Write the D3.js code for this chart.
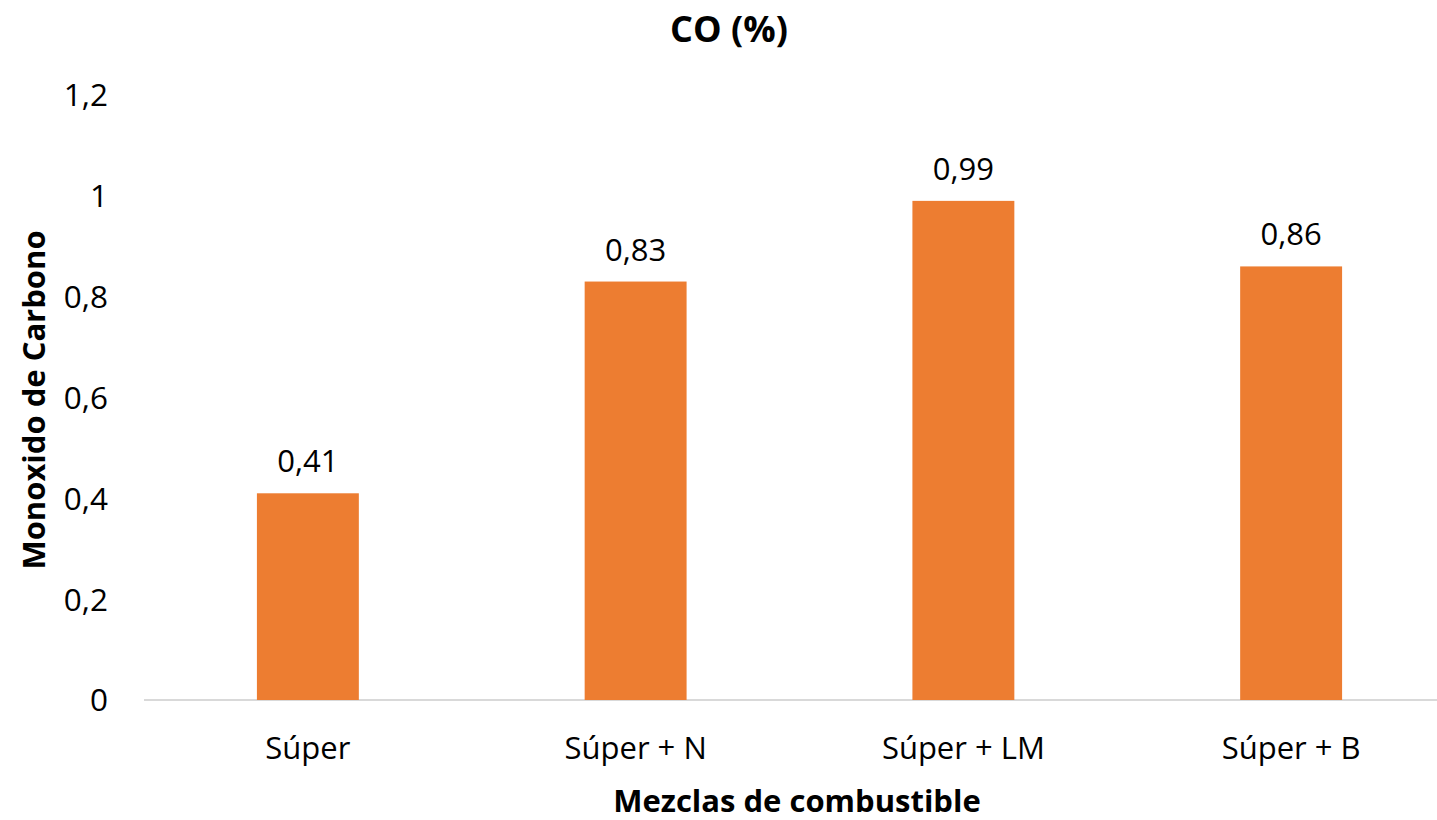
<!DOCTYPE html>
<html><head><meta charset="utf-8">
<script src="https://cdn.jsdelivr.net/npm/d3@7"></script>
<style>body{margin:0;background:#fff}svg{display:block;font-family:"Open Sans",sans-serif}</style>
</head><body>
<svg id="c" width="1437" height="820"></svg>
<script>
const categories = ["Súper", "Súper + N", "Súper + LM", "Súper + B"];
const values = [0.41, 0.83, 0.99, 0.86];
const valueLabels = ["0,41", "0,83", "0,99", "0,86"];
const yTicks = [0, 0.2, 0.4, 0.6, 0.8, 1, 1.2];
const yTickLabels = ["0", "0,2", "0,4", "0,6", "0,8", "1", "1,2"];

const svg = d3.select("#c");
const x = d3.scaleBand().domain(categories).range([144, 1455]).padding(0);
const y = d3.scaleLinear().domain([0, 1.2]).range([700, 95]);
const barW = x.bandwidth() * 0.311;

svg.append("line").attr("x1", 144).attr("x2", 1437).attr("y1", y(0)).attr("y2", y(0))
  .attr("stroke", "#d9d9d9").attr("stroke-width", 2);

svg.selectAll("rect.bar").data(values).enter().append("rect")
  .attr("x", (d, i) => x(categories[i]) + x.bandwidth() / 2 - barW / 2)
  .attr("width", barW)
  .attr("y", d => y(d)).attr("height", d => y(0) - y(d))
  .attr("fill", "#ED7D31");

svg.selectAll("text.vl").data(values).enter().append("text")
  .attr("x", (d, i) => x(categories[i]) + x.bandwidth() / 2)
  .attr("y", d => y(d) - 21)
  .attr("text-anchor", "middle").attr("font-size", 31).attr("fill", "#000")
  .text((d, i) => valueLabels[i]);

svg.selectAll("text.yt").data(yTicks).enter().append("text")
  .attr("x", 108).attr("y", d => y(d)).attr("dy", "0.36em")
  .attr("text-anchor", "end").attr("font-size", 31.5).attr("fill", "#000")
  .text((d, i) => yTickLabels[i]);

svg.selectAll("text.xt").data(categories).enter().append("text")
  .attr("x", d => x(d) + x.bandwidth() / 2).attr("y", 759)
  .attr("text-anchor", "middle").attr("font-size", 31).attr("fill", "#000")
  .text(d => d);

svg.append("text").attr("x", 729).attr("y", 42).attr("text-anchor", "middle")
  .attr("font-size", 36).attr("font-weight", "bold").text("CO (%)");
svg.append("text").attr("x", 797).attr("y", 812).attr("text-anchor", "middle")
  .attr("font-size", 31).attr("font-weight", "bold").text("Mezclas de combustible");
svg.append("text").attr("transform", "translate(45,400) rotate(-90)").attr("text-anchor", "middle")
  .attr("font-size", 31).attr("font-weight", "bold").text("Monoxido de Carbono");
</script>
</body></html>
